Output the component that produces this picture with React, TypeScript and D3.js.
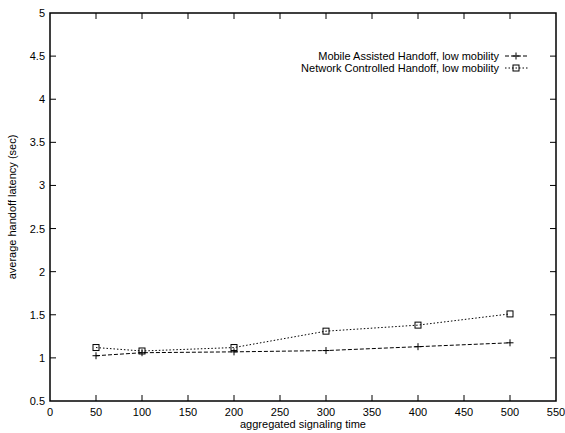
import React, { useEffect, useRef } from 'react';
import * as d3 from 'd3';

const xValues = [50, 100, 200, 300, 400, 500];
const mobileAssisted = [1.025, 1.06, 1.07, 1.085, 1.13, 1.175];
const networkControlled = [1.12, 1.08, 1.12, 1.31, 1.38, 1.51];
const xTicks = [0, 50, 100, 150, 200, 250, 300, 350, 400, 450, 500, 550];
const yTicks = [0.5, 1, 1.5, 2, 2.5, 3, 3.5, 4, 4.5, 5];
const seriesLabels = ['Mobile Assisted Handoff, low mobility', 'Network Controlled Handoff, low mobility'];

const W = 565;
const H = 433;

const App = () => {
  const svgRef = useRef<SVGSVGElement>(null);

  useEffect(() => {
    const svg = d3.select(svgRef.current);
    svg.selectAll('*').remove();
    const font = 'Liberation Sans, Arial, Helvetica, sans-serif';

    const x = d3.scaleLinear().domain([0, 550]).range([50, 556]);
    const y = d3.scaleLinear().domain([0.5, 5]).range([401, 13]);
    const [x0, x1] = x.range();
    const [y0, y1] = y.range();

    const g = svg.append('g');

    // ticks (inside, mirrored on top/right)
    xTicks.forEach(t => {
      if (t === 0 || t === 550) return;
      g.append('line').attr('x1', x(t)).attr('x2', x(t)).attr('y1', y0).attr('y2', y0 - 6).attr('stroke', '#000');
      g.append('line').attr('x1', x(t)).attr('x2', x(t)).attr('y1', y1).attr('y2', y1 + 6).attr('stroke', '#000');
    });
    yTicks.forEach(t => {
      if (t === 0.5 || t === 5) return;
      g.append('line').attr('x1', x0).attr('x2', x0 + 6).attr('y1', y(t)).attr('y2', y(t)).attr('stroke', '#000');
      g.append('line').attr('x1', x1).attr('x2', x1 - 6).attr('y1', y(t)).attr('y2', y(t)).attr('stroke', '#000');
    });

    g.append('rect')
      .attr('x', x0).attr('y', y1)
      .attr('width', x1 - x0).attr('height', y0 - y1)
      .attr('fill', 'none').attr('stroke', '#000').attr('stroke-width', 1.5);

    // tick labels
    xTicks.forEach(t => {
      g.append('text').attr('x', x(t)).attr('y', y0 + 15)
        .attr('text-anchor', 'middle').style('font-family', font).style('font-size', '11px')
        .text(t);
    });
    yTicks.forEach(t => {
      g.append('text').attr('x', x0 - 5).attr('y', y(t) + 4)
        .attr('text-anchor', 'end').style('font-family', font).style('font-size', '11px')
        .text(t);
    });

    // axis titles
    g.append('text').attr('x', (x0 + x1) / 2).attr('y', 428)
      .attr('text-anchor', 'middle').style('font-family', font).style('font-size', '11px')
      .text('aggregated signaling time');
    g.append('text').attr('transform', `translate(16, ${(y0 + y1) / 2}) rotate(-90)`)
      .attr('text-anchor', 'middle').style('font-family', font).style('font-size', '11px')
      .text('average handoff latency (sec)');

    const series = [
      { values: mobileAssisted, dash: '4,2', marker: 'plus' },
      { values: networkControlled, dash: '1.5,2', marker: 'square' },
    ];

    const line = d3.line<[number, number]>().x(d => x(d[0])).y(d => y(d[1]));

    const drawMarker = (type: string, cx: number, cy: number) => {
      if (type === 'plus') {
        g.append('path').attr('d', `M${cx - 3.5},${cy}H${cx + 3.5}M${cx},${cy - 3.5}V${cy + 3.5}`)
          .attr('stroke', '#000').attr('stroke-width', 1);
      } else {
        g.append('rect').attr('x', cx - 3).attr('y', cy - 3).attr('width', 6).attr('height', 6)
          .attr('fill', 'none').attr('stroke', '#000').attr('stroke-width', 1);
      }
    };

    series.forEach((s, i) => {
      const pts: [number, number][] = xValues.map((v, j) => [v, s.values[j]]);
      g.append('path').attr('d', line(pts)).attr('fill', 'none')
        .attr('stroke', '#000').attr('stroke-width', 1).attr('stroke-dasharray', s.dash);
      pts.forEach(p => drawMarker(s.marker, x(p[0]), y(p[1])));

      // legend
      const ly = 56 + i * 12;
      g.append('text').attr('x', 499).attr('y', ly + 4)
        .attr('text-anchor', 'end').style('font-family', font).style('font-size', '11px')
        .text(seriesLabels[i]);
      g.append('line').attr('x1', 505).attr('x2', 528).attr('y1', ly).attr('y2', ly)
        .attr('stroke', '#000').attr('stroke-width', 1).attr('stroke-dasharray', s.dash);
      drawMarker(s.marker, 516, ly);
    });
  }, []);

  return (
    <svg ref={svgRef} width={W} height={H}
      style={{ position: 'absolute', left: 0, top: 0, background: '#fff' }} />
  );
};

export default App;
